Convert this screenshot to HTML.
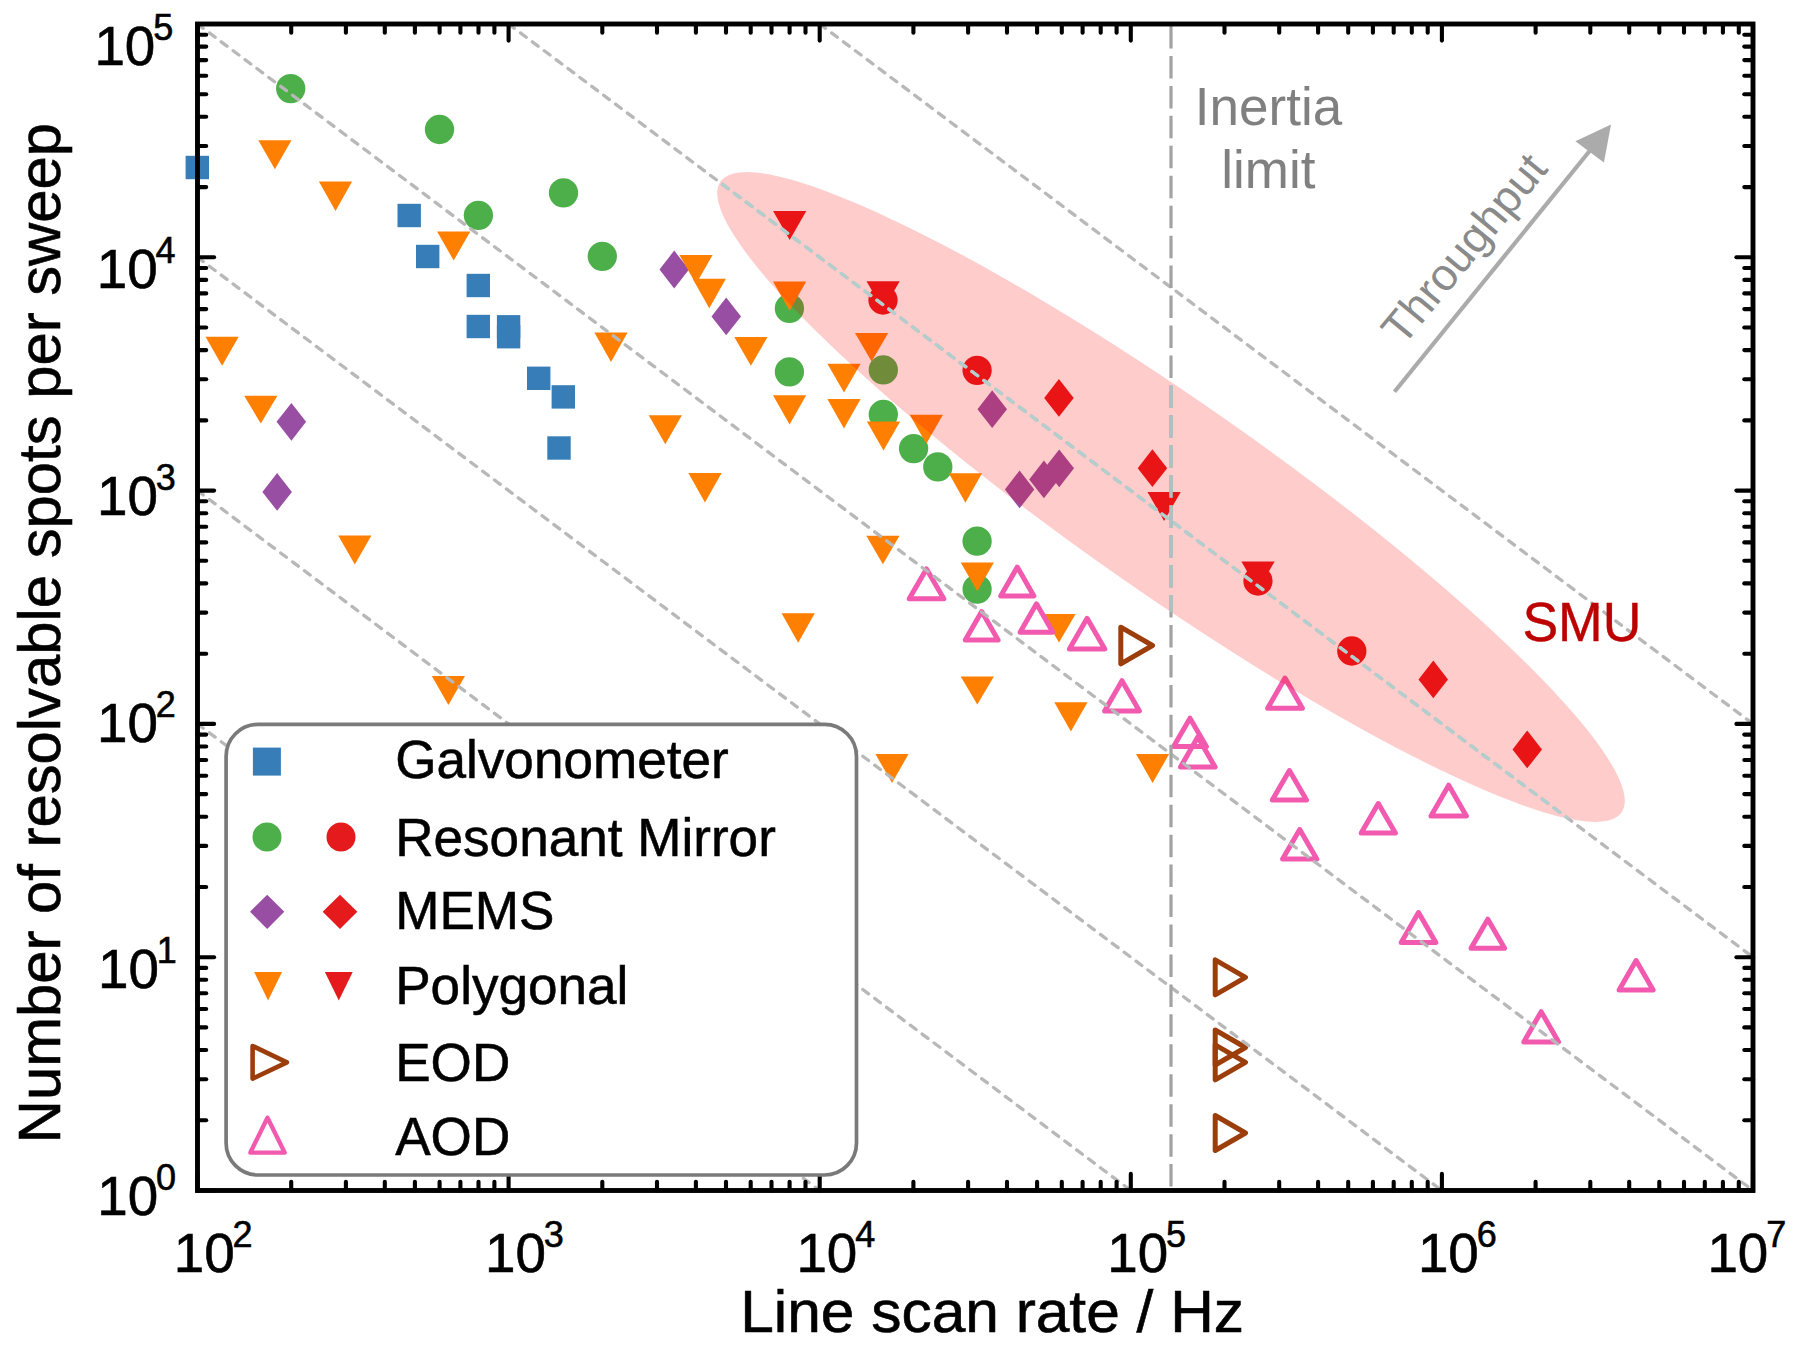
<!DOCTYPE html>
<html><head><meta charset="utf-8"><title>Line scan rate vs resolvable spots</title>
<style>html,body{margin:0;padding:0;background:#fff;}svg{display:block;}</style>
</head><body>
<svg width="1800" height="1347" viewBox="0 0 1800 1347">
<defs>
<clipPath id="plot"><rect x="197.5" y="24.0" width="1555.5" height="1166.5"/></clipPath>
<clipPath id="ell"><ellipse cx="1171.0" cy="497.0" rx="550.0" ry="95.0" transform="rotate(35.0 1171.0 497.0)"/></clipPath>
</defs>
<rect x="0" y="0" width="1800" height="1347" fill="#ffffff"/>
<g id="markers">
<rect x="185.6" y="155.8" width="23.4" height="23.4" fill="#377eb8"/>
<rect x="397.5" y="203.8" width="23.4" height="23.4" fill="#377eb8"/>
<rect x="416.0" y="244.8" width="23.4" height="23.4" fill="#377eb8"/>
<rect x="466.6" y="273.8" width="23.4" height="23.4" fill="#377eb8"/>
<rect x="466.6" y="314.8" width="23.4" height="23.4" fill="#377eb8"/>
<rect x="496.9" y="315.1" width="23.4" height="23.4" fill="#377eb8"/>
<rect x="496.9" y="325.0" width="23.4" height="23.4" fill="#377eb8"/>
<rect x="527.0" y="366.6" width="23.4" height="23.4" fill="#377eb8"/>
<rect x="551.6" y="385.2" width="23.4" height="23.4" fill="#377eb8"/>
<rect x="547.3" y="436.3" width="23.4" height="23.4" fill="#377eb8"/>
<circle cx="290.7" cy="88.6" r="14.65" fill="#4daf4a"/>
<circle cx="439.5" cy="129.5" r="14.65" fill="#4daf4a"/>
<circle cx="478.4" cy="215.3" r="14.65" fill="#4daf4a"/>
<circle cx="563.5" cy="192.8" r="14.65" fill="#4daf4a"/>
<circle cx="602.3" cy="256.3" r="14.65" fill="#4daf4a"/>
<circle cx="789.4" cy="308.4" r="14.65" fill="#4daf4a"/>
<circle cx="789.4" cy="371.8" r="14.65" fill="#4daf4a"/>
<circle cx="883.3" cy="369.9" r="14.65" fill="#4daf4a"/>
<circle cx="883.3" cy="414.5" r="14.65" fill="#4daf4a"/>
<circle cx="913.6" cy="448.6" r="14.65" fill="#4daf4a"/>
<circle cx="937.8" cy="466.9" r="14.65" fill="#4daf4a"/>
<circle cx="977.1" cy="541.2" r="14.65" fill="#4daf4a"/>
<circle cx="977.1" cy="589.1" r="14.65" fill="#4daf4a"/>
<path d="M291.4 402.9L306.1 421.8L291.4 440.7L276.6 421.8Z" fill="#984ea3"/>
<path d="M277.1 473.0L291.9 491.9L277.1 510.8L262.4 491.9Z" fill="#984ea3"/>
<path d="M674.2 250.6L689.0 269.5L674.2 288.4L659.5 269.5Z" fill="#984ea3"/>
<path d="M726.2 297.5L741.0 316.4L726.2 335.3L711.5 316.4Z" fill="#984ea3"/>
<path d="M992.2 390.3L1007.0 409.2L992.2 428.1L977.5 409.2Z" fill="#984ea3"/>
<path d="M1019.6 470.5L1034.3 489.4L1019.6 508.3L1004.9 489.4Z" fill="#984ea3"/>
<path d="M1043.9 460.5L1058.7 479.4L1043.9 498.3L1029.2 479.4Z" fill="#984ea3"/>
<path d="M1059.2 449.4L1074.0 468.3L1059.2 487.2L1044.5 468.3Z" fill="#984ea3"/>
<path d="M258.3 140.2L291.5 140.2L274.9 169.2Z" fill="#ff7f00"/>
<path d="M318.9 181.4L352.1 181.4L335.5 211.0Z" fill="#ff7f00"/>
<path d="M437.1 231.5L470.3 231.5L453.7 260.5Z" fill="#ff7f00"/>
<path d="M205.5 336.7L238.7 336.7L222.1 365.7Z" fill="#ff7f00"/>
<path d="M244.2 395.8L277.4 395.8L260.8 423.6Z" fill="#ff7f00"/>
<path d="M338.2 535.6L371.4 535.6L354.8 564.6Z" fill="#ff7f00"/>
<path d="M431.8 676.0L465.0 676.0L448.4 705.0Z" fill="#ff7f00"/>
<path d="M594.4 332.6L627.6 332.6L611.0 362.0Z" fill="#ff7f00"/>
<path d="M648.7 415.2L681.9 415.2L665.3 444.2Z" fill="#ff7f00"/>
<path d="M679.4 255.0L712.6 255.0L696.0 284.0Z" fill="#ff7f00"/>
<path d="M692.7 278.8L725.9 278.8L709.3 308.3Z" fill="#ff7f00"/>
<path d="M734.3 337.1L767.5 337.1L750.9 365.7Z" fill="#ff7f00"/>
<path d="M773.0 281.5L806.2 281.5L789.6 310.7Z" fill="#ff7f00"/>
<path d="M773.0 395.3L806.2 395.3L789.6 424.4Z" fill="#ff7f00"/>
<path d="M688.4 473.0L721.6 473.0L705.0 502.4Z" fill="#ff7f00"/>
<path d="M855.0 332.9L888.2 332.9L871.6 361.4Z" fill="#ff7f00"/>
<path d="M827.4 363.8L860.6 363.8L844.0 392.4Z" fill="#ff7f00"/>
<path d="M827.4 399.0L860.6 399.0L844.0 428.4Z" fill="#ff7f00"/>
<path d="M866.9 421.5L900.1 421.5L883.5 450.4Z" fill="#ff7f00"/>
<path d="M909.7 414.8L942.9 414.8L926.3 443.8Z" fill="#ff7f00"/>
<path d="M948.8 473.2L982.0 473.2L965.4 502.8Z" fill="#ff7f00"/>
<path d="M866.3 535.8L899.5 535.8L882.9 564.3Z" fill="#ff7f00"/>
<path d="M781.6 613.3L814.8 613.3L798.2 642.7Z" fill="#ff7f00"/>
<path d="M960.7 562.4L993.9 562.4L977.3 591.3Z" fill="#ff7f00"/>
<path d="M960.7 676.4L993.9 676.4L977.3 704.5Z" fill="#ff7f00"/>
<path d="M1042.4 614.0L1075.6 614.0L1059.0 642.5Z" fill="#ff7f00"/>
<path d="M1054.3 702.2L1087.5 702.2L1070.9 731.6Z" fill="#ff7f00"/>
<path d="M1136.0 753.9L1169.2 753.9L1152.6 782.9Z" fill="#ff7f00"/>
<path d="M875.4 754.0L908.6 754.0L892.0 783.0Z" fill="#ff7f00"/>
<circle cx="883.0" cy="300.0" r="14.65" fill="#e41a1c"/>
<circle cx="977.1" cy="370.3" r="14.65" fill="#e41a1c"/>
<circle cx="1258.0" cy="581.0" r="14.65" fill="#e41a1c"/>
<circle cx="1351.8" cy="651.0" r="14.65" fill="#e41a1c"/>
<path d="M1058.9 379.0L1073.7 397.9L1058.9 416.8L1044.2 397.9Z" fill="#e41a1c"/>
<path d="M1152.4 449.3L1167.2 468.2L1152.4 487.1L1137.7 468.2Z" fill="#e41a1c"/>
<path d="M1433.3 660.5L1448.0 679.4L1433.3 698.3L1418.5 679.4Z" fill="#e41a1c"/>
<path d="M1527.2 730.5L1542.0 749.4L1527.2 768.3L1512.5 749.4Z" fill="#e41a1c"/>
<path d="M773.1 211.0L806.3 211.0L789.7 240.0Z" fill="#e41a1c"/>
<path d="M866.5 281.2L899.7 281.2L883.1 310.0Z" fill="#e41a1c"/>
<path d="M1147.5 492.0L1180.7 492.0L1164.1 521.0Z" fill="#e41a1c"/>
<path d="M1241.4 561.4L1274.6 561.4L1258.0 590.4Z" fill="#e41a1c"/>
<path d="M1120.8 627.2L1152.5 645.5L1120.8 663.8Z" fill="none" stroke="#9c3d0c" stroke-width="5.0" stroke-linejoin="round"/>
<path d="M1215.2 959.8L1245.5 977.3L1215.2 994.8Z" fill="none" stroke="#9c3d0c" stroke-width="5.0" stroke-linejoin="round"/>
<path d="M1215.2 1030.0L1245.5 1047.5L1215.2 1065.0Z" fill="none" stroke="#9c3d0c" stroke-width="5.0" stroke-linejoin="round"/>
<path d="M1215.2 1044.8L1245.5 1062.3L1215.2 1079.8Z" fill="none" stroke="#9c3d0c" stroke-width="5.0" stroke-linejoin="round"/>
<path d="M1215.2 1115.5L1245.5 1133.0L1215.2 1150.5Z" fill="none" stroke="#9c3d0c" stroke-width="5.0" stroke-linejoin="round"/>
<path d="M926.5 568.9L943.8 598.8L909.2 598.8Z" fill="none" stroke="#f15aae" stroke-width="5.0" stroke-linejoin="round"/>
<path d="M1017.3 567.1L1033.9 595.9L1000.7 595.9Z" fill="none" stroke="#f15aae" stroke-width="5.0" stroke-linejoin="round"/>
<path d="M981.7 611.6L998.1 640.0L965.3 640.0Z" fill="none" stroke="#f15aae" stroke-width="5.0" stroke-linejoin="round"/>
<path d="M1036.5 603.8L1052.9 632.2L1020.1 632.2Z" fill="none" stroke="#f15aae" stroke-width="5.0" stroke-linejoin="round"/>
<path d="M1087.1 618.3L1104.8 648.9L1069.4 648.9Z" fill="none" stroke="#f15aae" stroke-width="5.0" stroke-linejoin="round"/>
<path d="M1122.0 680.7L1139.4 710.9L1104.6 710.9Z" fill="none" stroke="#f15aae" stroke-width="5.0" stroke-linejoin="round"/>
<path d="M1190.0 718.2L1206.4 746.6L1173.6 746.6Z" fill="none" stroke="#f15aae" stroke-width="5.0" stroke-linejoin="round"/>
<path d="M1197.8 737.1L1215.1 767.1L1180.5 767.1Z" fill="none" stroke="#f15aae" stroke-width="5.0" stroke-linejoin="round"/>
<path d="M1285.0 678.1L1302.4 708.3L1267.6 708.3Z" fill="none" stroke="#f15aae" stroke-width="5.0" stroke-linejoin="round"/>
<path d="M1289.4 770.5L1306.5 800.1L1272.3 800.1Z" fill="none" stroke="#f15aae" stroke-width="5.0" stroke-linejoin="round"/>
<path d="M1299.7 829.5L1316.8 859.1L1282.6 859.1Z" fill="none" stroke="#f15aae" stroke-width="5.0" stroke-linejoin="round"/>
<path d="M1378.3 803.5L1395.4 833.1L1361.2 833.1Z" fill="none" stroke="#f15aae" stroke-width="5.0" stroke-linejoin="round"/>
<path d="M1448.7 785.2L1466.4 815.9L1431.0 815.9Z" fill="none" stroke="#f15aae" stroke-width="5.0" stroke-linejoin="round"/>
<path d="M1418.5 912.5L1435.8 942.5L1401.2 942.5Z" fill="none" stroke="#f15aae" stroke-width="5.0" stroke-linejoin="round"/>
<path d="M1487.8 919.2L1504.6 948.3L1471.0 948.3Z" fill="none" stroke="#f15aae" stroke-width="5.0" stroke-linejoin="round"/>
<path d="M1636.1 960.5L1653.1 990.0L1619.1 990.0Z" fill="none" stroke="#f15aae" stroke-width="5.0" stroke-linejoin="round"/>
<path d="M1541.2 1011.7L1558.6 1041.9L1523.8 1041.9Z" fill="none" stroke="#f15aae" stroke-width="5.0" stroke-linejoin="round"/>
</g>
<ellipse cx="1171.0" cy="497.0" rx="550.0" ry="95.0" transform="rotate(35.0 1171.0 497.0)" fill="#ff0000" fill-opacity="0.2"/>
<g clip-path="url(#plot)">
<line x1="197.5" y1="723.9" x2="819.7" y2="1190.5" stroke="#b8b8b8" stroke-width="3.3" stroke-dasharray="7.2 7.65" stroke-linecap="round"/>
<line x1="197.5" y1="490.6" x2="1130.8" y2="1190.5" stroke="#b8b8b8" stroke-width="3.3" stroke-dasharray="7.2 7.65" stroke-linecap="round"/>
<line x1="197.5" y1="257.3" x2="1441.9" y2="1190.5" stroke="#b8b8b8" stroke-width="3.3" stroke-dasharray="7.2 7.65" stroke-linecap="round"/>
<line x1="197.5" y1="24.0" x2="1753.0" y2="1190.5" stroke="#b8b8b8" stroke-width="3.3" stroke-dasharray="7.2 7.65" stroke-linecap="round"/>
<line x1="508.6" y1="24.0" x2="1753.0" y2="957.2" stroke="#b8b8b8" stroke-width="3.3" stroke-dasharray="7.2 7.65" stroke-linecap="round"/>
<line x1="819.7" y1="24.0" x2="1753.0" y2="723.9" stroke="#b8b8b8" stroke-width="3.3" stroke-dasharray="7.2 7.65" stroke-linecap="round"/>
</g>
<g clip-path="url(#ell)">
<line x1="197.5" y1="723.9" x2="819.7" y2="1190.5" stroke="#b2cfcd" stroke-width="3.3" stroke-dasharray="7.2 7.65" stroke-linecap="round"/>
<line x1="197.5" y1="490.6" x2="1130.8" y2="1190.5" stroke="#b2cfcd" stroke-width="3.3" stroke-dasharray="7.2 7.65" stroke-linecap="round"/>
<line x1="197.5" y1="257.3" x2="1441.9" y2="1190.5" stroke="#b2cfcd" stroke-width="3.3" stroke-dasharray="7.2 7.65" stroke-linecap="round"/>
<line x1="197.5" y1="24.0" x2="1753.0" y2="1190.5" stroke="#b2cfcd" stroke-width="3.3" stroke-dasharray="7.2 7.65" stroke-linecap="round"/>
<line x1="508.6" y1="24.0" x2="1753.0" y2="957.2" stroke="#b2cfcd" stroke-width="3.3" stroke-dasharray="7.2 7.65" stroke-linecap="round"/>
<line x1="819.7" y1="24.0" x2="1753.0" y2="723.9" stroke="#b2cfcd" stroke-width="3.3" stroke-dasharray="7.2 7.65" stroke-linecap="round"/>
</g>
<line x1="1171.0" y1="26.0" x2="1171.0" y2="1190.5" stroke="#a2a2a2" stroke-width="3.2" stroke-dasharray="22.5 7.45"/>
<line x1="1171.0" y1="26.0" x2="1171.0" y2="1190.5" stroke="#a9c4c3" stroke-width="3.2" stroke-dasharray="22.5 7.45" clip-path="url(#ell)"/>
<text x="1268.5" y="124.5" font-family="'Liberation Sans', Arial, Helvetica, sans-serif" font-size="53" fill="#808080" text-anchor="middle">Inertia</text>
<text x="1268.3" y="188" font-family="'Liberation Sans', Arial, Helvetica, sans-serif" font-size="53" fill="#808080" text-anchor="middle">limit</text>
<line x1="1394.5" y1="391.8" x2="1592" y2="148" stroke="#ababab" stroke-width="4.2"/>
<path d="M1611 124.5 L1575.4 141.2 L1603.9 162.4 Z" fill="#ababab"/>
<text x="0" y="0" transform="translate(1402.7 347.3) rotate(-50.5)" font-family="'Liberation Sans', Arial, Helvetica, sans-serif" font-size="45" fill="#8a8a8a">Throughput</text>
<text x="1522.4" y="641" font-family="'Liberation Sans', Arial, Helvetica, sans-serif" font-size="55.5" fill="#bd0000" stroke="#bd0000" stroke-width="0.4" textLength="119" lengthAdjust="spacingAndGlyphs">SMU</text>
<g stroke="#000000" stroke-linecap="round">
<rect x="197.5" y="24.0" width="1555.5" height="1166.5" fill="none" stroke-width="4.9"/>
<line x1="197.5" y1="1190.5" x2="197.5" y2="1173.9" stroke-width="4.1"/>
<line x1="197.5" y1="24.0" x2="197.5" y2="40.6" stroke-width="4.1"/>
<line x1="291.2" y1="1190.5" x2="291.2" y2="1181.8" stroke-width="4.1"/>
<line x1="291.2" y1="24.0" x2="291.2" y2="32.7" stroke-width="4.1"/>
<line x1="345.9" y1="1190.5" x2="345.9" y2="1181.8" stroke-width="4.1"/>
<line x1="345.9" y1="24.0" x2="345.9" y2="32.7" stroke-width="4.1"/>
<line x1="384.8" y1="1190.5" x2="384.8" y2="1181.8" stroke-width="4.1"/>
<line x1="384.8" y1="24.0" x2="384.8" y2="32.7" stroke-width="4.1"/>
<line x1="414.9" y1="1190.5" x2="414.9" y2="1181.8" stroke-width="4.1"/>
<line x1="414.9" y1="24.0" x2="414.9" y2="32.7" stroke-width="4.1"/>
<line x1="439.6" y1="1190.5" x2="439.6" y2="1181.8" stroke-width="4.1"/>
<line x1="439.6" y1="24.0" x2="439.6" y2="32.7" stroke-width="4.1"/>
<line x1="460.4" y1="1190.5" x2="460.4" y2="1181.8" stroke-width="4.1"/>
<line x1="460.4" y1="24.0" x2="460.4" y2="32.7" stroke-width="4.1"/>
<line x1="478.5" y1="1190.5" x2="478.5" y2="1181.8" stroke-width="4.1"/>
<line x1="478.5" y1="24.0" x2="478.5" y2="32.7" stroke-width="4.1"/>
<line x1="494.4" y1="1190.5" x2="494.4" y2="1181.8" stroke-width="4.1"/>
<line x1="494.4" y1="24.0" x2="494.4" y2="32.7" stroke-width="4.1"/>
<line x1="508.6" y1="1190.5" x2="508.6" y2="1173.9" stroke-width="4.1"/>
<line x1="508.6" y1="24.0" x2="508.6" y2="40.6" stroke-width="4.1"/>
<line x1="602.3" y1="1190.5" x2="602.3" y2="1181.8" stroke-width="4.1"/>
<line x1="602.3" y1="24.0" x2="602.3" y2="32.7" stroke-width="4.1"/>
<line x1="657.0" y1="1190.5" x2="657.0" y2="1181.8" stroke-width="4.1"/>
<line x1="657.0" y1="24.0" x2="657.0" y2="32.7" stroke-width="4.1"/>
<line x1="695.9" y1="1190.5" x2="695.9" y2="1181.8" stroke-width="4.1"/>
<line x1="695.9" y1="24.0" x2="695.9" y2="32.7" stroke-width="4.1"/>
<line x1="726.0" y1="1190.5" x2="726.0" y2="1181.8" stroke-width="4.1"/>
<line x1="726.0" y1="24.0" x2="726.0" y2="32.7" stroke-width="4.1"/>
<line x1="750.7" y1="1190.5" x2="750.7" y2="1181.8" stroke-width="4.1"/>
<line x1="750.7" y1="24.0" x2="750.7" y2="32.7" stroke-width="4.1"/>
<line x1="771.5" y1="1190.5" x2="771.5" y2="1181.8" stroke-width="4.1"/>
<line x1="771.5" y1="24.0" x2="771.5" y2="32.7" stroke-width="4.1"/>
<line x1="789.6" y1="1190.5" x2="789.6" y2="1181.8" stroke-width="4.1"/>
<line x1="789.6" y1="24.0" x2="789.6" y2="32.7" stroke-width="4.1"/>
<line x1="805.5" y1="1190.5" x2="805.5" y2="1181.8" stroke-width="4.1"/>
<line x1="805.5" y1="24.0" x2="805.5" y2="32.7" stroke-width="4.1"/>
<line x1="819.7" y1="1190.5" x2="819.7" y2="1173.9" stroke-width="4.1"/>
<line x1="819.7" y1="24.0" x2="819.7" y2="40.6" stroke-width="4.1"/>
<line x1="913.4" y1="1190.5" x2="913.4" y2="1181.8" stroke-width="4.1"/>
<line x1="913.4" y1="24.0" x2="913.4" y2="32.7" stroke-width="4.1"/>
<line x1="968.1" y1="1190.5" x2="968.1" y2="1181.8" stroke-width="4.1"/>
<line x1="968.1" y1="24.0" x2="968.1" y2="32.7" stroke-width="4.1"/>
<line x1="1007.0" y1="1190.5" x2="1007.0" y2="1181.8" stroke-width="4.1"/>
<line x1="1007.0" y1="24.0" x2="1007.0" y2="32.7" stroke-width="4.1"/>
<line x1="1037.1" y1="1190.5" x2="1037.1" y2="1181.8" stroke-width="4.1"/>
<line x1="1037.1" y1="24.0" x2="1037.1" y2="32.7" stroke-width="4.1"/>
<line x1="1061.8" y1="1190.5" x2="1061.8" y2="1181.8" stroke-width="4.1"/>
<line x1="1061.8" y1="24.0" x2="1061.8" y2="32.7" stroke-width="4.1"/>
<line x1="1082.6" y1="1190.5" x2="1082.6" y2="1181.8" stroke-width="4.1"/>
<line x1="1082.6" y1="24.0" x2="1082.6" y2="32.7" stroke-width="4.1"/>
<line x1="1100.7" y1="1190.5" x2="1100.7" y2="1181.8" stroke-width="4.1"/>
<line x1="1100.7" y1="24.0" x2="1100.7" y2="32.7" stroke-width="4.1"/>
<line x1="1116.6" y1="1190.5" x2="1116.6" y2="1181.8" stroke-width="4.1"/>
<line x1="1116.6" y1="24.0" x2="1116.6" y2="32.7" stroke-width="4.1"/>
<line x1="1130.8" y1="1190.5" x2="1130.8" y2="1173.9" stroke-width="4.1"/>
<line x1="1130.8" y1="24.0" x2="1130.8" y2="40.6" stroke-width="4.1"/>
<line x1="1224.5" y1="1190.5" x2="1224.5" y2="1181.8" stroke-width="4.1"/>
<line x1="1224.5" y1="24.0" x2="1224.5" y2="32.7" stroke-width="4.1"/>
<line x1="1279.2" y1="1190.5" x2="1279.2" y2="1181.8" stroke-width="4.1"/>
<line x1="1279.2" y1="24.0" x2="1279.2" y2="32.7" stroke-width="4.1"/>
<line x1="1318.1" y1="1190.5" x2="1318.1" y2="1181.8" stroke-width="4.1"/>
<line x1="1318.1" y1="24.0" x2="1318.1" y2="32.7" stroke-width="4.1"/>
<line x1="1348.2" y1="1190.5" x2="1348.2" y2="1181.8" stroke-width="4.1"/>
<line x1="1348.2" y1="24.0" x2="1348.2" y2="32.7" stroke-width="4.1"/>
<line x1="1372.9" y1="1190.5" x2="1372.9" y2="1181.8" stroke-width="4.1"/>
<line x1="1372.9" y1="24.0" x2="1372.9" y2="32.7" stroke-width="4.1"/>
<line x1="1393.7" y1="1190.5" x2="1393.7" y2="1181.8" stroke-width="4.1"/>
<line x1="1393.7" y1="24.0" x2="1393.7" y2="32.7" stroke-width="4.1"/>
<line x1="1411.8" y1="1190.5" x2="1411.8" y2="1181.8" stroke-width="4.1"/>
<line x1="1411.8" y1="24.0" x2="1411.8" y2="32.7" stroke-width="4.1"/>
<line x1="1427.7" y1="1190.5" x2="1427.7" y2="1181.8" stroke-width="4.1"/>
<line x1="1427.7" y1="24.0" x2="1427.7" y2="32.7" stroke-width="4.1"/>
<line x1="1441.9" y1="1190.5" x2="1441.9" y2="1173.9" stroke-width="4.1"/>
<line x1="1441.9" y1="24.0" x2="1441.9" y2="40.6" stroke-width="4.1"/>
<line x1="1535.6" y1="1190.5" x2="1535.6" y2="1181.8" stroke-width="4.1"/>
<line x1="1535.6" y1="24.0" x2="1535.6" y2="32.7" stroke-width="4.1"/>
<line x1="1590.3" y1="1190.5" x2="1590.3" y2="1181.8" stroke-width="4.1"/>
<line x1="1590.3" y1="24.0" x2="1590.3" y2="32.7" stroke-width="4.1"/>
<line x1="1629.2" y1="1190.5" x2="1629.2" y2="1181.8" stroke-width="4.1"/>
<line x1="1629.2" y1="24.0" x2="1629.2" y2="32.7" stroke-width="4.1"/>
<line x1="1659.3" y1="1190.5" x2="1659.3" y2="1181.8" stroke-width="4.1"/>
<line x1="1659.3" y1="24.0" x2="1659.3" y2="32.7" stroke-width="4.1"/>
<line x1="1684.0" y1="1190.5" x2="1684.0" y2="1181.8" stroke-width="4.1"/>
<line x1="1684.0" y1="24.0" x2="1684.0" y2="32.7" stroke-width="4.1"/>
<line x1="1704.8" y1="1190.5" x2="1704.8" y2="1181.8" stroke-width="4.1"/>
<line x1="1704.8" y1="24.0" x2="1704.8" y2="32.7" stroke-width="4.1"/>
<line x1="1722.9" y1="1190.5" x2="1722.9" y2="1181.8" stroke-width="4.1"/>
<line x1="1722.9" y1="24.0" x2="1722.9" y2="32.7" stroke-width="4.1"/>
<line x1="1738.8" y1="1190.5" x2="1738.8" y2="1181.8" stroke-width="4.1"/>
<line x1="1738.8" y1="24.0" x2="1738.8" y2="32.7" stroke-width="4.1"/>
<line x1="1753.0" y1="1190.5" x2="1753.0" y2="1173.9" stroke-width="4.1"/>
<line x1="1753.0" y1="24.0" x2="1753.0" y2="40.6" stroke-width="4.1"/>
<line x1="197.5" y1="1190.5" x2="214.1" y2="1190.5" stroke-width="4.1"/>
<line x1="1753.0" y1="1190.5" x2="1736.4" y2="1190.5" stroke-width="4.1"/>
<line x1="197.5" y1="1120.3" x2="206.2" y2="1120.3" stroke-width="4.1"/>
<line x1="1753.0" y1="1120.3" x2="1744.3" y2="1120.3" stroke-width="4.1"/>
<line x1="197.5" y1="1079.2" x2="206.2" y2="1079.2" stroke-width="4.1"/>
<line x1="1753.0" y1="1079.2" x2="1744.3" y2="1079.2" stroke-width="4.1"/>
<line x1="197.5" y1="1050.0" x2="206.2" y2="1050.0" stroke-width="4.1"/>
<line x1="1753.0" y1="1050.0" x2="1744.3" y2="1050.0" stroke-width="4.1"/>
<line x1="197.5" y1="1027.4" x2="206.2" y2="1027.4" stroke-width="4.1"/>
<line x1="1753.0" y1="1027.4" x2="1744.3" y2="1027.4" stroke-width="4.1"/>
<line x1="197.5" y1="1009.0" x2="206.2" y2="1009.0" stroke-width="4.1"/>
<line x1="1753.0" y1="1009.0" x2="1744.3" y2="1009.0" stroke-width="4.1"/>
<line x1="197.5" y1="993.3" x2="206.2" y2="993.3" stroke-width="4.1"/>
<line x1="1753.0" y1="993.3" x2="1744.3" y2="993.3" stroke-width="4.1"/>
<line x1="197.5" y1="979.8" x2="206.2" y2="979.8" stroke-width="4.1"/>
<line x1="1753.0" y1="979.8" x2="1744.3" y2="979.8" stroke-width="4.1"/>
<line x1="197.5" y1="967.9" x2="206.2" y2="967.9" stroke-width="4.1"/>
<line x1="1753.0" y1="967.9" x2="1744.3" y2="967.9" stroke-width="4.1"/>
<line x1="197.5" y1="957.2" x2="214.1" y2="957.2" stroke-width="4.1"/>
<line x1="1753.0" y1="957.2" x2="1736.4" y2="957.2" stroke-width="4.1"/>
<line x1="197.5" y1="887.0" x2="206.2" y2="887.0" stroke-width="4.1"/>
<line x1="1753.0" y1="887.0" x2="1744.3" y2="887.0" stroke-width="4.1"/>
<line x1="197.5" y1="845.9" x2="206.2" y2="845.9" stroke-width="4.1"/>
<line x1="1753.0" y1="845.9" x2="1744.3" y2="845.9" stroke-width="4.1"/>
<line x1="197.5" y1="816.7" x2="206.2" y2="816.7" stroke-width="4.1"/>
<line x1="1753.0" y1="816.7" x2="1744.3" y2="816.7" stroke-width="4.1"/>
<line x1="197.5" y1="794.1" x2="206.2" y2="794.1" stroke-width="4.1"/>
<line x1="1753.0" y1="794.1" x2="1744.3" y2="794.1" stroke-width="4.1"/>
<line x1="197.5" y1="775.7" x2="206.2" y2="775.7" stroke-width="4.1"/>
<line x1="1753.0" y1="775.7" x2="1744.3" y2="775.7" stroke-width="4.1"/>
<line x1="197.5" y1="760.0" x2="206.2" y2="760.0" stroke-width="4.1"/>
<line x1="1753.0" y1="760.0" x2="1744.3" y2="760.0" stroke-width="4.1"/>
<line x1="197.5" y1="746.5" x2="206.2" y2="746.5" stroke-width="4.1"/>
<line x1="1753.0" y1="746.5" x2="1744.3" y2="746.5" stroke-width="4.1"/>
<line x1="197.5" y1="734.6" x2="206.2" y2="734.6" stroke-width="4.1"/>
<line x1="1753.0" y1="734.6" x2="1744.3" y2="734.6" stroke-width="4.1"/>
<line x1="197.5" y1="723.9" x2="214.1" y2="723.9" stroke-width="4.1"/>
<line x1="1753.0" y1="723.9" x2="1736.4" y2="723.9" stroke-width="4.1"/>
<line x1="197.5" y1="653.7" x2="206.2" y2="653.7" stroke-width="4.1"/>
<line x1="1753.0" y1="653.7" x2="1744.3" y2="653.7" stroke-width="4.1"/>
<line x1="197.5" y1="612.6" x2="206.2" y2="612.6" stroke-width="4.1"/>
<line x1="1753.0" y1="612.6" x2="1744.3" y2="612.6" stroke-width="4.1"/>
<line x1="197.5" y1="583.4" x2="206.2" y2="583.4" stroke-width="4.1"/>
<line x1="1753.0" y1="583.4" x2="1744.3" y2="583.4" stroke-width="4.1"/>
<line x1="197.5" y1="560.8" x2="206.2" y2="560.8" stroke-width="4.1"/>
<line x1="1753.0" y1="560.8" x2="1744.3" y2="560.8" stroke-width="4.1"/>
<line x1="197.5" y1="542.4" x2="206.2" y2="542.4" stroke-width="4.1"/>
<line x1="1753.0" y1="542.4" x2="1744.3" y2="542.4" stroke-width="4.1"/>
<line x1="197.5" y1="526.7" x2="206.2" y2="526.7" stroke-width="4.1"/>
<line x1="1753.0" y1="526.7" x2="1744.3" y2="526.7" stroke-width="4.1"/>
<line x1="197.5" y1="513.2" x2="206.2" y2="513.2" stroke-width="4.1"/>
<line x1="1753.0" y1="513.2" x2="1744.3" y2="513.2" stroke-width="4.1"/>
<line x1="197.5" y1="501.3" x2="206.2" y2="501.3" stroke-width="4.1"/>
<line x1="1753.0" y1="501.3" x2="1744.3" y2="501.3" stroke-width="4.1"/>
<line x1="197.5" y1="490.6" x2="214.1" y2="490.6" stroke-width="4.1"/>
<line x1="1753.0" y1="490.6" x2="1736.4" y2="490.6" stroke-width="4.1"/>
<line x1="197.5" y1="420.4" x2="206.2" y2="420.4" stroke-width="4.1"/>
<line x1="1753.0" y1="420.4" x2="1744.3" y2="420.4" stroke-width="4.1"/>
<line x1="197.5" y1="379.3" x2="206.2" y2="379.3" stroke-width="4.1"/>
<line x1="1753.0" y1="379.3" x2="1744.3" y2="379.3" stroke-width="4.1"/>
<line x1="197.5" y1="350.1" x2="206.2" y2="350.1" stroke-width="4.1"/>
<line x1="1753.0" y1="350.1" x2="1744.3" y2="350.1" stroke-width="4.1"/>
<line x1="197.5" y1="327.5" x2="206.2" y2="327.5" stroke-width="4.1"/>
<line x1="1753.0" y1="327.5" x2="1744.3" y2="327.5" stroke-width="4.1"/>
<line x1="197.5" y1="309.1" x2="206.2" y2="309.1" stroke-width="4.1"/>
<line x1="1753.0" y1="309.1" x2="1744.3" y2="309.1" stroke-width="4.1"/>
<line x1="197.5" y1="293.4" x2="206.2" y2="293.4" stroke-width="4.1"/>
<line x1="1753.0" y1="293.4" x2="1744.3" y2="293.4" stroke-width="4.1"/>
<line x1="197.5" y1="279.9" x2="206.2" y2="279.9" stroke-width="4.1"/>
<line x1="1753.0" y1="279.9" x2="1744.3" y2="279.9" stroke-width="4.1"/>
<line x1="197.5" y1="268.0" x2="206.2" y2="268.0" stroke-width="4.1"/>
<line x1="1753.0" y1="268.0" x2="1744.3" y2="268.0" stroke-width="4.1"/>
<line x1="197.5" y1="257.3" x2="214.1" y2="257.3" stroke-width="4.1"/>
<line x1="1753.0" y1="257.3" x2="1736.4" y2="257.3" stroke-width="4.1"/>
<line x1="197.5" y1="187.1" x2="206.2" y2="187.1" stroke-width="4.1"/>
<line x1="1753.0" y1="187.1" x2="1744.3" y2="187.1" stroke-width="4.1"/>
<line x1="197.5" y1="146.0" x2="206.2" y2="146.0" stroke-width="4.1"/>
<line x1="1753.0" y1="146.0" x2="1744.3" y2="146.0" stroke-width="4.1"/>
<line x1="197.5" y1="116.8" x2="206.2" y2="116.8" stroke-width="4.1"/>
<line x1="1753.0" y1="116.8" x2="1744.3" y2="116.8" stroke-width="4.1"/>
<line x1="197.5" y1="94.2" x2="206.2" y2="94.2" stroke-width="4.1"/>
<line x1="1753.0" y1="94.2" x2="1744.3" y2="94.2" stroke-width="4.1"/>
<line x1="197.5" y1="75.8" x2="206.2" y2="75.8" stroke-width="4.1"/>
<line x1="1753.0" y1="75.8" x2="1744.3" y2="75.8" stroke-width="4.1"/>
<line x1="197.5" y1="60.1" x2="206.2" y2="60.1" stroke-width="4.1"/>
<line x1="1753.0" y1="60.1" x2="1744.3" y2="60.1" stroke-width="4.1"/>
<line x1="197.5" y1="46.6" x2="206.2" y2="46.6" stroke-width="4.1"/>
<line x1="1753.0" y1="46.6" x2="1744.3" y2="46.6" stroke-width="4.1"/>
<line x1="197.5" y1="34.7" x2="206.2" y2="34.7" stroke-width="4.1"/>
<line x1="1753.0" y1="34.7" x2="1744.3" y2="34.7" stroke-width="4.1"/>
<line x1="197.5" y1="24.0" x2="214.1" y2="24.0" stroke-width="4.1"/>
<line x1="1753.0" y1="24.0" x2="1736.4" y2="24.0" stroke-width="4.1"/>
</g>
<rect x="226.1" y="724.4" width="630.4" height="450.6" rx="32" ry="32" fill="#ffffff" stroke="#7a7a7a" stroke-width="3.7"/>
<rect x="252.9" y="747.6" width="28.0" height="28.0" fill="#377eb8"/>
<circle cx="267.0" cy="837.0" r="14.50" fill="#4daf4a"/>
<circle cx="341.0" cy="837.0" r="14.50" fill="#e41a1c"/>
<path d="M267.2 894.7L284.3 911.8L267.2 928.9L250.0 911.8Z" fill="#984ea3"/>
<path d="M340.0 894.7L357.3 911.8L340.0 928.9L322.7 911.8Z" fill="#e41a1c"/>
<path d="M254.2 972.1L282.0 972.1L268.1 1000.6Z" fill="#ff7f00"/>
<path d="M324.9 972.1L352.7 972.1L338.8 1000.6Z" fill="#e41a1c"/>
<path d="M252.6 1046.0L286.9 1062.3L252.6 1078.6Z" fill="none" stroke="#9c3d0c" stroke-width="4.6" stroke-linejoin="round"/>
<path d="M267.5 1117.8L284.7 1152.6L250.3 1152.6Z" fill="none" stroke="#f15aae" stroke-width="4.4" stroke-linejoin="round"/>
<text x="395.2" y="778.0" font-family="'Liberation Sans', Arial, Helvetica, sans-serif" font-size="53.1" fill="#000000" stroke="#000" stroke-width="0.55">Galvonometer</text>
<text x="395.2" y="855.5" font-family="'Liberation Sans', Arial, Helvetica, sans-serif" font-size="53.1" fill="#000000" stroke="#000" stroke-width="0.55">Resonant Mirror</text>
<text x="395.2" y="929.2" font-family="'Liberation Sans', Arial, Helvetica, sans-serif" font-size="53.1" fill="#000000" stroke="#000" stroke-width="0.55">MEMS</text>
<text x="395.2" y="1003.8" font-family="'Liberation Sans', Arial, Helvetica, sans-serif" font-size="53.1" fill="#000000" stroke="#000" stroke-width="0.55">Polygonal</text>
<text x="395.2" y="1080.8" font-family="'Liberation Sans', Arial, Helvetica, sans-serif" font-size="53.1" fill="#000000" stroke="#000" stroke-width="0.55">EOD</text>
<text x="395.2" y="1154.8" font-family="'Liberation Sans', Arial, Helvetica, sans-serif" font-size="53.1" fill="#000000" stroke="#000" stroke-width="0.55">AOD</text>
<text x="94.4" y="65.0" font-family="'Liberation Sans', Arial, Helvetica, sans-serif" font-size="54.8" fill="#000" stroke="#000" stroke-width="0.6">10<tspan dx="-2.2" dy="-25" font-size="36">5</tspan></text>
<text x="96.7" y="288.0" font-family="'Liberation Sans', Arial, Helvetica, sans-serif" font-size="54.8" fill="#000" stroke="#000" stroke-width="0.6">10<tspan dx="-2.2" dy="-25" font-size="36">4</tspan></text>
<text x="97.0" y="515.0" font-family="'Liberation Sans', Arial, Helvetica, sans-serif" font-size="54.8" fill="#000" stroke="#000" stroke-width="0.6">10<tspan dx="-2.2" dy="-25" font-size="36">3</tspan></text>
<text x="97.0" y="741.5" font-family="'Liberation Sans', Arial, Helvetica, sans-serif" font-size="54.8" fill="#000" stroke="#000" stroke-width="0.6">10<tspan dx="-2.2" dy="-25" font-size="36">2</tspan></text>
<text x="98.0" y="988.0" font-family="'Liberation Sans', Arial, Helvetica, sans-serif" font-size="54.8" fill="#000" stroke="#000" stroke-width="0.6">10<tspan dx="-2.2" dy="-25" font-size="36">1</tspan></text>
<text x="97.2" y="1214.5" font-family="'Liberation Sans', Arial, Helvetica, sans-serif" font-size="54.8" fill="#000" stroke="#000" stroke-width="0.6">10<tspan dx="-2.2" dy="-25" font-size="36">0</tspan></text>
<text x="173.7" y="1271.5" font-family="'Liberation Sans', Arial, Helvetica, sans-serif" font-size="54.8" fill="#000" stroke="#000" stroke-width="0.6">10<tspan dx="-2.2" dy="-25" font-size="36">2</tspan></text>
<text x="485.0" y="1271.5" font-family="'Liberation Sans', Arial, Helvetica, sans-serif" font-size="54.8" fill="#000" stroke="#000" stroke-width="0.6">10<tspan dx="-2.2" dy="-25" font-size="36">3</tspan></text>
<text x="796.4" y="1271.5" font-family="'Liberation Sans', Arial, Helvetica, sans-serif" font-size="54.8" fill="#000" stroke="#000" stroke-width="0.6">10<tspan dx="-2.2" dy="-25" font-size="36">4</tspan></text>
<text x="1107.3" y="1271.5" font-family="'Liberation Sans', Arial, Helvetica, sans-serif" font-size="54.8" fill="#000" stroke="#000" stroke-width="0.6">10<tspan dx="-2.2" dy="-25" font-size="36">5</tspan></text>
<text x="1417.9" y="1271.5" font-family="'Liberation Sans', Arial, Helvetica, sans-serif" font-size="54.8" fill="#000" stroke="#000" stroke-width="0.6">10<tspan dx="-2.2" dy="-25" font-size="36">6</tspan></text>
<text x="1707.4" y="1271.5" font-family="'Liberation Sans', Arial, Helvetica, sans-serif" font-size="54.8" fill="#000" stroke="#000" stroke-width="0.6">10<tspan dx="-2.2" dy="-25" font-size="36">7</tspan></text>
<text x="740.2" y="1332" font-family="'Liberation Sans', Arial, Helvetica, sans-serif" font-size="58.5" fill="#000" stroke="#000" stroke-width="0.6" textLength="503.8" lengthAdjust="spacingAndGlyphs">Line scan rate / Hz</text>
<text x="0" y="0" transform="translate(60 1143.3) rotate(-90)" font-family="'Liberation Sans', Arial, Helvetica, sans-serif" font-size="59.8" fill="#000" stroke="#000" stroke-width="0.6">Number of resolvable spots per sweep</text>
</svg>
</body></html>
